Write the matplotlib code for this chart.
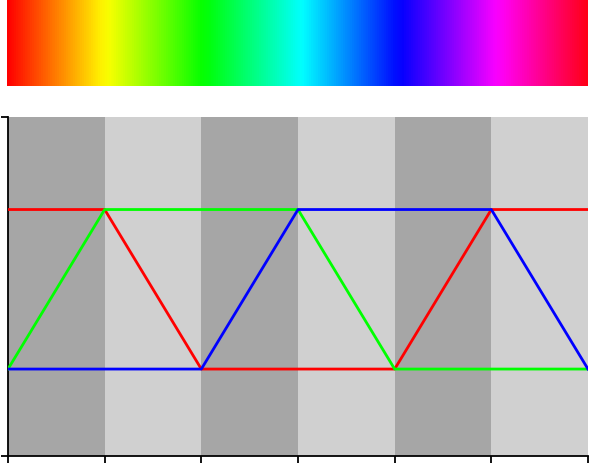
import numpy as np
import matplotlib
matplotlib.use("Agg")
import matplotlib.pyplot as plt

# hue angle (degrees) and RGB components
hue = [0, 60, 120, 180, 240, 300, 360]
red = [1, 1, 0, 0, 0, 1, 1]
green = [0, 1, 1, 1, 0, 0, 0]
blue = [0, 0, 0, 1, 1, 1, 0]
bands = ["#a6a6a6", "#d0d0d0", "#a6a6a6", "#d0d0d0", "#a6a6a6", "#d0d0d0"]

fig = plt.figure(figsize=(5.92, 4.67), dpi=100)

# colour gradient bar on top
bar = fig.add_axes([7 / 592, (467 - 86) / 467, 581 / 592, 86 / 467])
gradient = np.linspace(0, 1, 512).reshape(1, -1)
bar.imshow(gradient, aspect="auto", cmap="hsv", extent=[0, 360, 0, 1])
bar.set_axis_off()

# RGB curves
ax = fig.add_axes([8 / 592, 11 / 467, 580 / 592, 339 / 467])
for i, c in enumerate(bands):
    ax.axvspan(hue[i], hue[i + 1], color=c, lw=0, zorder=0)
ax.plot(hue, red, color="#ff0000", lw=2.0, zorder=3)
ax.plot(hue, green, color="#00ff00", lw=2.0, zorder=3)
ax.plot(hue, blue, color="#0000ff", lw=2.0, zorder=3)

ax.set_xlim(0, 360)
ax.set_ylim(-0.545, 1.58)
ax.set_xticks(hue)
ax.set_yticks([-0.545, 1.58])
ax.set_xticklabels([])
ax.set_yticklabels([])
ax.spines["top"].set_visible(False)
ax.spines["right"].set_visible(False)
ax.spines["left"].set_linewidth(1.3)
ax.spines["bottom"].set_linewidth(1.3)
ax.tick_params(length=5, width=1.3, direction="out")

fig.savefig("out.png", dpi=100)
